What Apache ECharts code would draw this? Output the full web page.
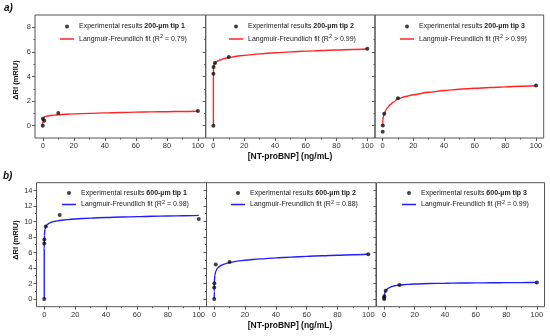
<!DOCTYPE html>
<html><head><meta charset="utf-8">
<script src="https://cdn.jsdelivr.net/npm/echarts@6/dist/echarts.min.js"></script>
<style>html,body{margin:0;padding:0;background:#fff}#c{width:550px;height:336px}</style>
</head><body><div id="c"></div>
<script>
// ---- data ----
const xTickLabels = [0, 20, 40, 60, 80, 100];
const xMinorTicks = [10, 30, 50, 70, 90];
const yTickLabelsTop = [0, 2, 4, 6, 8];
const yMinorTop = [1, 3, 5, 7];
const yTickLabelsBottom = [0, 2, 4, 6, 8, 10, 12, 14];
const yMinorBottom = [1, 3, 5, 7, 9, 11, 13];

const fitX = [0, 0.01, 0.1, 0.5, 1, 2, 3, 5, 7, 10, 15, 20, 30, 40, 50, 60, 70, 80, 90, 100];

const a1X = [0, 0.1, 1, 10, 100];
const a1Y = [0, 0.57, 0.4, 1.03, 1.2];
const a1Fit = [0, 0.35, 0.55, 0.66, 0.71, 0.76, 0.79, 0.83, 0.86, 0.89, 0.93, 0.96, 1.0, 1.04, 1.07, 1.1, 1.12, 1.14, 1.16, 1.18];

const a2X = [0, 0.01, 0.1, 1, 10, 100];
const a2Y = [0, 4.23, 4.77, 5.09, 5.58, 6.25];
const a2Fit = [0, 4.2, 4.75, 4.98, 5.08, 5.2, 5.28, 5.38, 5.46, 5.55, 5.65, 5.72, 5.84, 5.93, 6.0, 6.06, 6.11, 6.16, 6.2, 6.24];

const a3X = [0, 0.1, 1, 10, 100];
const a3Y = [-0.5, 0.02, 0.97, 2.24, 3.26];
const a3Fit = [0, 0.25, 0.45, 0.75, 0.97, 1.25, 1.45, 1.72, 1.92, 2.2, 2.38, 2.52, 2.72, 2.86, 2.96, 3.04, 3.1, 3.16, 3.21, 3.25];

const b1X = [0, 0.01, 0.1, 1, 10, 100];
const b1Y = [0, 7.17, 7.68, 9.36, 10.84, 10.33];
const b1Fit = [0, 6.5, 8.2, 9.0, 9.3, 9.6, 9.75, 9.93, 10.03, 10.13, 10.24, 10.32, 10.43, 10.51, 10.57, 10.62, 10.67, 10.71, 10.74, 10.78];

const b2X = [0, 0.01, 0.1, 1, 10, 100];
const b2Y = [0, 1.48, 2.02, 4.43, 4.77, 5.78];
const b2Fit = [0, 1.0, 2.3, 3.1, 3.55, 3.95, 4.15, 4.38, 4.53, 4.7, 4.88, 5.0, 5.17, 5.3, 5.4, 5.5, 5.57, 5.64, 5.7, 5.76];

const b3X = [0, 0.01, 0.1, 1, 10, 100];
const b3Y = [0, 0.15, 0.35, 1.05, 1.81, 2.11];
const b3Fit = [0, 0.2, 0.45, 0.8, 1.02, 1.28, 1.42, 1.6, 1.7, 1.8, 1.88, 1.93, 1.99, 2.03, 2.05, 2.07, 2.09, 2.1, 2.11, 2.12];

const tipLabels = ['200-µm tip 1', '200-µm tip 2', '200-µm tip 3', '600-µm tip 1', '600-µm tip 2', '600-µm tip 3'];
const r2Labels = [' = 0.79)', ' > 0.99)', ' > 0.99)', ' = 0.98)', ' = 0.88)', ' = 0.99)'];

const xTitle = '[NT-proBNP] (ng/mL)';
const yTitle = 'ΔRI (mRIU)';

// ---- layout ----
const FONT = "'Liberation Sans', Arial, sans-serif";
const panels = [
  {x: a1X, y: a1Y, fit: a1Fit, color: '#ff2525', left: 35, top: 15, width: 170.7, height: 123, row: 0, first: true, legL: 60, legT: 23},
  {x: a2X, y: a2Y, fit: a2Fit, color: '#ff2525', left: 205.7, top: 15, width: 169.3, height: 123, row: 0, first: false, legL: 229, legT: 23},
  {x: a3X, y: a3Y, fit: a3Fit, color: '#ff2525', left: 375, top: 15, width: 168.7, height: 123, row: 0, first: false, legL: 400, legT: 23},
  {x: b1X, y: b1Y, fit: b1Fit, color: '#2020ff', left: 36.5, top: 182.7, width: 170, height: 124, row: 1, first: true, legL: 62, legT: 189.5},
  {x: b2X, y: b2Y, fit: b2Fit, color: '#2020ff', left: 206.5, top: 182.7, width: 169.5, height: 124, row: 1, first: false, legL: 231, legT: 189.5},
  {x: b3X, y: b3Y, fit: b3Fit, color: '#2020ff', left: 376.5, top: 182.7, width: 168, height: 124, row: 1, first: false, legL: 402, legT: 189.5}
];

const grid = [], xAxis = [], yAxis = [], series = [], legend = [];
const nameMap = {};
panels.forEach((p, i) => {
  grid.push({left: p.left, top: p.top, width: p.width, height: p.height, show: true,
    borderColor: '#555', borderWidth: 1, backgroundColor: 'transparent', containLabel: false});
  const yMax = p.row === 0 ? 9 : 15;
  const yLabels = p.row === 0 ? yTickLabelsTop : yTickLabelsBottom;
  const yMinor = p.row === 0 ? yMinorTop : yMinorBottom;
  xAxis.push({type: 'value', gridIndex: i, min: -5, max: 105, position: 'bottom',
    axisLine: {show: false, onZero: false}, splitLine: {show: false},
    axisTick: {show: true, length: 3, customValues: xTickLabels, lineStyle: {color: '#555'}},
    axisLabel: {show: true, customValues: xTickLabels, margin: 4, fontSize: 7.5, color: '#333', fontFamily: FONT}});
  xAxis.push({type: 'value', gridIndex: i, min: -5, max: 105, position: 'bottom',
    axisLine: {show: false, onZero: false}, splitLine: {show: false},
    axisTick: {show: true, length: 1.5, customValues: xMinorTicks, lineStyle: {color: '#555'}},
    axisLabel: {show: false}});
  yAxis.push({type: 'value', gridIndex: i, min: -1, max: yMax, position: 'left',
    axisLine: {show: false, onZero: false}, splitLine: {show: false},
    axisTick: {show: true, length: 3, customValues: yLabels, lineStyle: {color: '#555'}},
    axisLabel: {show: p.first, customValues: yLabels, margin: 4, fontSize: 7.5, color: '#333', fontFamily: FONT}});
  yAxis.push({type: 'value', gridIndex: i, min: -1, max: yMax, position: 'left',
    axisLine: {show: false, onZero: false}, splitLine: {show: false},
    axisTick: {show: true, length: 1.5, customValues: yMinor, lineStyle: {color: '#555'}},
    axisLabel: {show: false}});
  const expName = 'exp' + i, fitName = 'fit' + i;
  nameMap[expName] = '{n|Experimental results }{b|' + tipLabels[i] + '}';
  nameMap[fitName] = '{n|Langmuir-Freundlich fit (R}{s|2}{n|' + r2Labels[i] + '}';
  series.push({name: fitName, type: 'line', xAxisIndex: 2 * i, yAxisIndex: 2 * i,
    data: fitX.map((x, k) => [x, p.fit[k]]), symbol: 'none', smooth: 0.3, smoothMonotone: 'x',
    lineStyle: {color: p.color, width: 1.4}, itemStyle: {color: p.color}, z: 2, silent: true});
  series.push({name: expName, type: 'scatter', xAxisIndex: 2 * i, yAxisIndex: 2 * i,
    data: p.x.map((x, k) => [x, p.y[k]]), symbol: 'circle', symbolSize: 4,
    itemStyle: {color: '#111'}, z: 3, silent: true});
  legend.push({show: true, orient: 'vertical', left: p.legL, top: p.legT,
    data: [{name: expName, icon: 'circle'}, {name: fitName, icon: 'path://M0,0h14v1.5h-14z'}],
    itemWidth: 14, itemHeight: 4, itemGap: p.row === 0 ? 3.5 : 2.5,
    selectedMode: false, padding: 0,
    formatter: (name) => nameMap[name],
    textStyle: {fontFamily: FONT, color: '#222', rich: {
      n: {fontSize: 7, lineHeight: 11, fontFamily: FONT, color: '#222'},
      b: {fontSize: 7, lineHeight: 11, fontWeight: 'bold', fontFamily: FONT, color: '#222'},
      s: {fontSize: 5.5, lineHeight: 11, verticalAlign: 'top', fontFamily: FONT, color: '#222'}
    }}});
});

const graphic = [
  {type: 'text', left: 4, top: 3, style: {text: 'a)', font: 'italic bold 10px ' + FONT, fill: '#111'}},
  {type: 'text', left: 3, top: 171, style: {text: 'b)', font: 'italic bold 10px ' + FONT, fill: '#111'}},
  {type: 'text', x: 290, y: 157, style: {text: xTitle, font: 'bold 8.5px ' + FONT, fill: '#111', align: 'center', verticalAlign: 'middle'}},
  {type: 'text', x: 290, y: 326, style: {text: xTitle, font: 'bold 8.5px ' + FONT, fill: '#111', align: 'center', verticalAlign: 'middle'}},
  {type: 'text', x: 16, y: 80, rotation: Math.PI / 2, style: {text: yTitle, font: 'bold 7.5px ' + FONT, fill: '#111', align: 'center', verticalAlign: 'middle'}},
  {type: 'text', x: 16, y: 240, rotation: Math.PI / 2, style: {text: yTitle, font: 'bold 7.5px ' + FONT, fill: '#111', align: 'center', verticalAlign: 'middle'}}
];

const chart = echarts.init(document.getElementById('c'), null, {renderer: 'canvas'});
chart.setOption({animation: false, backgroundColor: '#fff', grid, xAxis, yAxis, series, legend, graphic});
</script></body></html>
